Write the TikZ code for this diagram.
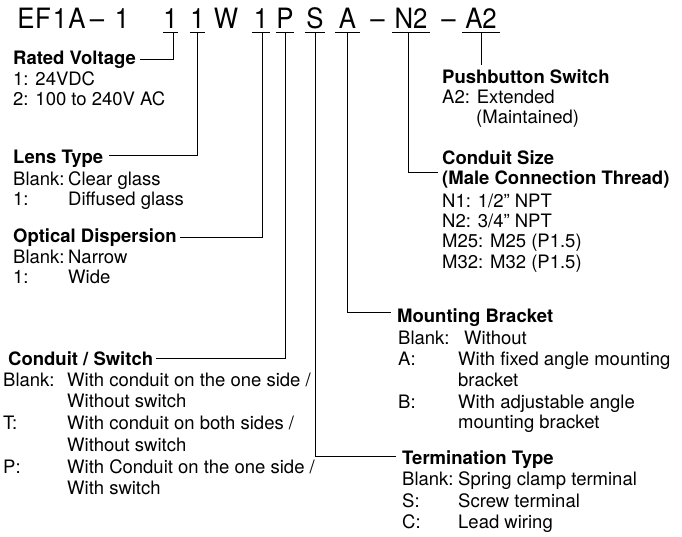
\documentclass[tikz,border=0pt]{standalone}
\usepackage{fontspec}
\setmainfont{TeX Gyre Heros}
\newfontfamily\titlefam[FakeStretch=0.92]{TeX Gyre Heros}
\newcommand\bodyfnt{\fontsize{18.5}{21}\selectfont}
\newcommand\titlefnt{\titlefam\fontsize{28}{32}\selectfont}
\begin{document}
\begin{tikzpicture}[x=1pt,y=-1pt,
  code/.style={font=\titlefnt, inner sep=0pt, anchor=base, text height=20pt, text depth=4pt},
  ucode/.style={code, minimum width=#1},
  hdr/.style={font=\bodyfnt\bfseries, inner sep=0pt, anchor=base west, text height=14pt, text depth=4pt},
  txt/.style={font=\bodyfnt, inner sep=0pt, anchor=base west},
  conn/.style={line width=1pt, line cap=rect},
  uline/.style={line width=1.2pt}]
\useasboundingbox (0,0) rectangle (682,536);
% ---- model code ----
\node[code] (e) at (26,28) {E};
\node[code] (f) at (43,28) {F};
\node[code] (one1) at (60,28) {1};
\node[code] (a1) at (77,28) {A};
\node[code] (d1) at (97,28) {–};
\node[code] (one2) at (122,28) {1};
\node[ucode=15pt] (u1) at (170.5,28) {1};
\node[ucode=15pt] (u2) at (197.5,28) {1};
\node[code] (w) at (226,28) {W};
\node[ucode=18pt] (u3) at (261,28) {1};
\node[ucode=16pt] (u4) at (285,28) {P};
\node[ucode=20pt] (u5) at (315,28) {S};
\node[ucode=25pt] (u6) at (347.5,28) {A};
\node[code] (d2) at (377.5,28) {–};
\node[ucode=38pt] (u7) at (411,28) {N2};
\node[code] (d3) at (448.5,28) {–};
\node[ucode=37pt] (u8) at (481,28) {A2};
\foreach \n in {u1,u2,u3,u4,u5,u6,u7,u8}
  \draw[uline] (\n.south west) -- (\n.south east);
% ---- headers ----
\node[hdr] (rv) at (13,64) {Rated Voltage};
\node[hdr] (lt) at (13,163) {Lens Type};
\node[hdr] (od) at (13,242) {Optical Dispersion};
\node[hdr] (cs) at (8,365) {Conduit / Switch};
\node[hdr] (pb) at (442,83) {Pushbutton Switch};
\node[hdr] (csz1) at (442,164) {Conduit Size};
\node[hdr] (csz2) at (442,184) {(Male Connection Thread)};
\node[hdr] (mb) at (397,322.5) {Mounting Bracket};
\node[hdr] (tt) at (402,464) {Termination Type};
% ---- body text ----
\node[txt] (rv1) at (13,85) {1: 24VDC};
\node[txt] (rv2) at (13,105) {2: 100 to 240V AC};
\node[txt] (lt1a) at (13,185) {Blank:};
\node[txt] (lt1b) at (68,185) {Clear glass};
\node[txt] (lt2a) at (13,205) {1:};
\node[txt] (lt2b) at (68,205) {Diffused glass};
\node[txt] (od1a) at (13,263) {Blank:};
\node[txt] (od1b) at (68,263) {Narrow};
\node[txt] (od2a) at (13,283) {1:};
\node[txt] (od2b) at (68,283) {Wide};
\node[txt] (cs1a) at (3,386) {Blank:};
\node[txt] (cs1b) at (67,386) {With conduit on the one side /};
\node[txt] (cs2b) at (67,407.5) {Without switch};
\node[txt] (cs3a) at (3,429) {T:};
\node[txt] (cs3b) at (67,429) {With conduit on both sides /};
\node[txt] (cs4b) at (67,451) {Without switch};
\node[txt] (cs5a) at (3,473) {P:};
\node[txt] (cs5b) at (67,473) {With Conduit on the one side /};
\node[txt] (cs6b) at (67,494) {With switch};
\node[txt] (pb1) at (442,103) {A2: Extended};
\node[txt] (pb2) at (476,123) {(Maintained)};
\node[txt] (csz3) at (442,207) {N1: 1/2” NPT};
\node[txt] (csz4) at (442,227) {N2: 3/4” NPT};
\node[txt] (csz5) at (442,247) {M25: M25 (P1.5)};
\node[txt] (csz6) at (442,268) {M32: M32 (P1.5)};
\node[txt] (mb1a) at (398,344) {Blank:};
\node[txt] (mb1b) at (464,344) {Without};
\node[txt] (mb2a) at (398,365.5) {A:};
\node[txt] (mb2b) at (458,365.5) {With fixed angle mounting};
\node[txt] (mb3b) at (458,386.5) {bracket};
\node[txt] (mb4a) at (398,408) {B:};
\node[txt] (mb4b) at (458,408) {With adjustable angle};
\node[txt] (mb5b) at (458,428) {mounting bracket};
\node[txt] (tt1a) at (402,485) {Blank:};
\node[txt] (tt1b) at (458,485) {Spring clamp terminal};
\node[txt] (tt2a) at (402,507) {S:};
\node[txt] (tt2b) at (458,507) {Screw terminal};
\node[txt] (tt3a) at (402,528) {C:};
\node[txt] (tt3b) at (458,528) {Lead wiring};
% ---- connectors ----
\coordinate (pbend) at ([yshift=4pt]pb.north);
\draw[conn] ([xshift=3pt]u1.south) |- ([xshift=4pt]rv.east);
\draw[conn] (u2.south) |- ([xshift=6pt,yshift=3pt]lt.east);
\draw[conn] ([xshift=1pt]u3.south) |- ([xshift=4pt]od.east);
\draw[conn] (u4.south) |- ([xshift=3pt,yshift=2pt]cs.east);
\draw[conn] (u5.south) |- ([xshift=-7pt,yshift=3pt]tt.west);
\draw[conn] (u6.south) |- ([xshift=-7pt,yshift=5pt]mb.west);
\draw[conn] ([xshift=-3pt]u7.south) |- ([xshift=-5pt,yshift=7pt]csz2.west);
\draw[conn] (u8.south) -- (u8.south |- pbend);
\end{tikzpicture}
\end{document}
